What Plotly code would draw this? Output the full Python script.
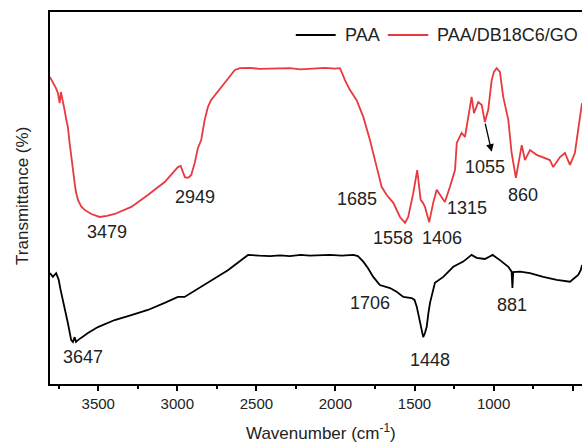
import plotly.graph_objects as go

# ---- data (wavenumber in cm-1, transmittance in arbitrary %) ----
red_wn = [3805, 3776, 3768, 3755, 3744, 3736, 3730, 3723, 3713, 3704, 3692, 3681, 3671, 3660,
          3649, 3641, 3628, 3609, 3586, 3544, 3491, 3445, 3396, 3291, 3186, 3080, 2996, 2979,
          2964, 2952, 2937, 2926, 2912, 2890, 2870, 2849, 2827, 2806, 2787, 2751, 2688, 2636,
          2604, 2541, 2480, 2414, 2350, 2288, 2220, 2161, 2100, 2066, 2003, 1972, 1953, 1940,
          1908, 1866, 1824, 1782, 1739, 1708, 1676, 1634, 1592, 1560, 1540, 1508, 1483, 1461,
          1447, 1434, 1407, 1382, 1360, 1328, 1308, 1276, 1244, 1233, 1202, 1181, 1162, 1139,
          1124, 1097, 1075, 1055, 1034, 1012, 998, 981, 960, 939, 907, 886, 859, 838, 822, 802,
          770, 728, 686, 644, 623, 580, 549, 517, 486, 454, 441]
red_t = [82.5, 80.4, 79.6, 78.2, 75.5, 78.5, 77.4, 75.8, 73.7, 71.5, 69.1, 64.8, 61.0, 57.5,
         54.0, 51.6, 49.5, 47.8, 46.8, 45.7, 44.9, 45.2, 45.7, 47.6, 50.8, 54.3, 58.3, 58.6,
         57.0, 55.6, 55.4, 55.6, 56.2, 59.4, 63.4, 65.6, 71.0, 74.5, 76.3, 78.2, 81.7, 84.4,
         84.9, 85.0, 84.7, 84.8, 85.0, 84.9, 84.6, 84.7, 84.9, 85.0, 84.8, 84.9, 83.1, 81.7,
         79.0, 76.3, 71.8, 65.6, 58.3, 53.0, 50.8, 48.7, 44.9, 43.3, 44.9, 51.3, 57.5, 49.5,
         48.7, 47.6, 43.5, 48.7, 52.2, 50.3, 48.9, 53.0, 57.5, 64.8, 67.5, 66.4, 71.0, 77.2,
         72.8, 75.8, 75.0, 70.4, 73.7, 81.7, 83.9, 84.9, 83.9, 77.2, 71.0, 62.1, 55.4, 60.2,
         64.2, 60.2, 62.9, 61.6, 60.8, 60.2, 58.3, 61.0, 62.1, 58.9, 62.1, 71.8, 75.5]

black_wn = [3805, 3787, 3766, 3750, 3738, 3723, 3713, 3692, 3671, 3660, 3649, 3641, 3628, 3608,
            3565, 3502, 3396, 3291, 3186, 3080, 2996, 2954, 2912, 2806, 2680, 2553, 2541, 2480,
            2414, 2350, 2288, 2220, 2161, 2100, 2035, 1960, 1887, 1858, 1824, 1795, 1761, 1719,
            1687, 1655, 1613, 1571, 1518, 1500, 1486, 1475, 1466, 1454, 1445, 1434, 1423, 1412,
            1402, 1371, 1318, 1255, 1192, 1139, 1107, 1055, 1006, 960, 907, 886, 881, 876, 833,
            770, 686, 601, 517, 465, 449, 441]
black_t = [29.8, 28.8, 29.8, 28.0, 25.3, 22.6, 20.7, 16.4, 11.8, 11.3, 12.6, 11.3, 11.8, 12.4,
           13.7, 15.3, 17.2, 18.5, 19.9, 21.8, 23.4, 23.4, 24.5, 27.4, 30.6, 34.7, 34.7, 34.5,
           34.4, 34.6, 34.4, 34.7, 34.5, 34.6, 34.7, 34.5, 34.7, 34.4, 32.9, 31.2, 28.8, 26.6,
           26.1, 25.8, 24.8, 23.4, 23.1, 22.6, 20.8, 18.5, 16.4, 14.0, 12.6, 13.7, 15.4, 19.1,
           21.8, 27.2, 28.8, 31.5, 32.9, 34.7, 33.9, 33.6, 34.7, 33.3, 31.5, 30.2, 25.8, 30.1,
           30.2, 29.8, 28.8, 28.0, 27.5, 29.3, 30.6, 32.0]

# peak labels: text, wavenumber, transmittance
label_text = ["3479", "2949", "1685", "1558", "1406", "1315", "1055", "860",
              "3647", "1706", "1448", "881"]
label_wn = [3444, 2888, 1866, 1636, 1328, 1168, 1055, 816, 3597, 1782, 1402, 886]
label_t = [40.9, 50.3, 49.7, 39.2, 39.2, 47.3, 58.3, 50.8, 7.3, 21.8, 6.5, 21.2]

# arrow for 1055 band: tail (on curve) -> head
arrow_tail = (1055, 70.4)
arrow_head = (1012, 62.4)

x_ticks = [3500, 3000, 2500, 2000, 1500, 1000, 500]
series_names = ["PAA", "PAA/DB18C6/GO"]

RED = "#e8393e"
FONT = "Liberation Sans, Arial, sans-serif"
TXT = "#222"

fig = go.Figure()
fig.add_trace(go.Scatter(x=black_wn, y=black_t, mode="lines", name=series_names[0],
                         line=dict(color="black", width=1.8), showlegend=False))
fig.add_trace(go.Scatter(x=red_wn, y=red_t, mode="lines", name=series_names[1],
                         line=dict(color=RED, width=1.8), showlegend=False))

for t, xw, yt in zip(label_text, label_wn, label_t):
    fig.add_annotation(x=xw, y=yt, text=t, showarrow=False,
                       font=dict(size=18, color=TXT, family=FONT))

fig.add_annotation(x=arrow_head[0], y=arrow_head[1], ax=arrow_tail[0], ay=arrow_tail[1],
                   axref="x", ayref="y", text="", showarrow=True,
                   arrowhead=2, arrowsize=1.2, arrowwidth=1.3, arrowcolor="black")

# manual legend (paper coords)
leg_y = 0.938
for (x0, x1, tx), col, name in zip([(0.462, 0.537, 0.550), (0.635, 0.711, 0.723)],
                                   ["black", RED], series_names):
    fig.add_shape(type="line", xref="paper", yref="paper", x0=x0, x1=x1, y0=leg_y, y1=leg_y,
                  line=dict(color=col, width=2))
    fig.add_annotation(xref="paper", yref="paper", x=tx, y=leg_y, text=name,
                       showarrow=False, xanchor="left", yanchor="middle",
                       font=dict(size=18, color=TXT, family=FONT))

# axis titles as annotations
fig.add_annotation(xref="paper", yref="paper", x=0.51, y=-0.128, text="Wavenumber (cm<sup>-1</sup>)",
                   showarrow=False, xanchor="center", yanchor="middle",
                   font=dict(size=17, color=TXT, family=FONT))
fig.add_annotation(xref="paper", yref="paper", x=-0.053, y=0.505, text="Transmittance (%)",
                   showarrow=False, textangle=-90, xanchor="center", yanchor="middle",
                   font=dict(size=17, color=TXT, family=FONT))

fig.update_layout(
    width=582, height=442,
    margin=dict(l=50, r=0, t=12, b=58),
    paper_bgcolor="white", plot_bgcolor="white",
    font=dict(family=FONT, color=TXT),
    showlegend=False,
    xaxis=dict(range=[3805, 441], tickvals=x_ticks, ticks="outside", ticklen=5,
               tickwidth=1.5, tickcolor="black", showline=True, linewidth=2,
               linecolor="black", mirror=True, showgrid=False, zeroline=False,
               automargin=False, tickfont=dict(size=15, color=TXT),
               minor=dict(dtick=250, ticks="outside", ticklen=3, tickwidth=1.5,
                          tickcolor="black", showgrid=False)),
    yaxis=dict(range=[0, 100], showticklabels=False, ticks="", showline=True,
               linewidth=2, linecolor="black", mirror=False, showgrid=False,
               zeroline=False, automargin=False),
)

fig.write_html("out.html", config={"displayModeBar": False},
               post_script="document.body.style.margin='0';document.body.style.overflow='hidden';")
